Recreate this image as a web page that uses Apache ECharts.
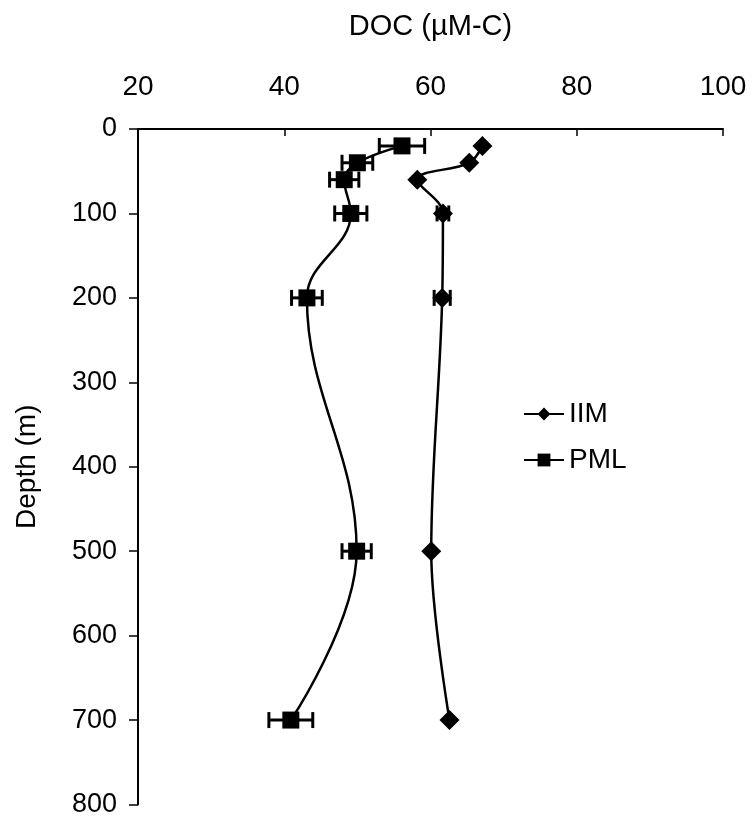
<!DOCTYPE html>
<html>
<head>
<meta charset="utf-8">
<script src="https://cdn.jsdelivr.net/npm/echarts@6/dist/echarts.min.js"></script>
<style>
  html, body { margin: 0; padding: 0; background: #fff; }
  #main { width: 755px; height: 818px; }
</style>
</head>
<body>
<div id="main"></div>
<script>
// depth in metres, DOC in µM-C
const depths = [20, 40, 60, 100, 200, 500, 700]
const iimDoc = [67.1, 65.3, 58.2, 61.7, 61.6, 60.1, 62.6]
const iimErr = [0, 0, 0, 0.8, 1.1, 0, 0]
const pmlDoc = [56.1, 50.0, 48.2, 49.1, 43.1, 49.9, 40.9]
const pmlErr = [3.1, 2.1, 2.0, 2.2, 2.1, 2.0, 3.0]
const xTicks = [20, 40, 60, 80, 100]
const yTicks = [0, 100, 200, 300, 400, 500, 600, 700, 800]

const font = 'Liberation Sans, Arial, sans-serif'

const pts = (vals) => depths.map((d, i) => [vals[i], d])
const errs = (vals, e) => depths.map((d, i) => [vals[i] - e[i], vals[i] + e[i], d])

const errorBars = (name, data) => ({
  type: 'custom',
  name: name,
  data: data,
  z: 3,
  renderItem: (params, api) => {
    const lo = api.coord([api.value(0), api.value(2)])
    const hi = api.coord([api.value(1), api.value(2)])
    if (hi[0] - lo[0] < 1) return null
    const h = 8
    const st = { stroke: '#000', lineWidth: 3 }
    return {
      type: 'group',
      children: [
        { type: 'line', shape: { x1: lo[0], y1: lo[1], x2: hi[0], y2: hi[1] }, style: st },
        { type: 'line', shape: { x1: lo[0], y1: lo[1] - h, x2: lo[0], y2: lo[1] + h }, style: st },
        { type: 'line', shape: { x1: hi[0], y1: hi[1] - h, x2: hi[0], y2: hi[1] + h }, style: st }
      ]
    }
  }
})

const chart = echarts.init(document.getElementById('main'))

chart.setOption({
  animation: false,
  backgroundColor: '#fff',
  textStyle: { fontFamily: font, color: '#000' },
  grid: { left: 138, right: 32, top: 129, bottom: 12 },
  legend: {
    orient: 'vertical',
    left: 518,
    top: 395,
    itemWidth: 40,
    itemHeight: 16,
    itemGap: 18,
    data: ['IIM', 'PML'],
    textStyle: { fontFamily: font, fontSize: 28, color: '#000' }
  },
  xAxis: {
    type: 'value',
    position: 'top',
    min: 20,
    max: 100,
    interval: 20,
    name: 'DOC (µM-C)',
    nameLocation: 'middle',
    nameGap: 88,
    nameTextStyle: { fontFamily: font, fontSize: 29, color: '#000' },
    axisLine: { show: true, onZero: false, lineStyle: { color: '#000', width: 2 } },
    axisTick: { show: true, inside: true, length: 7, lineStyle: { color: '#000', width: 1.5 } },
    axisLabel: { fontFamily: font, fontSize: 28, color: '#000', margin: 28 },
    splitLine: { show: false }
  },
  yAxis: {
    type: 'value',
    inverse: true,
    min: 0,
    max: 800,
    interval: 100,
    name: 'Depth (m)',
    nameLocation: 'middle',
    nameGap: 97,
    nameRotate: 90,
    nameTextStyle: { fontFamily: font, fontSize: 28, color: '#000' },
    axisLine: { show: true, onZero: false, lineStyle: { color: '#000', width: 2 } },
    axisTick: { show: true, length: 9, lineStyle: { color: '#000', width: 1.5 } },
    axisLabel: { fontFamily: font, fontSize: 27, color: '#000', margin: 21 },
    splitLine: { show: false }
  },
  series: [
    errorBars('IIM error', errs(iimDoc, iimErr)),
    errorBars('PML error', errs(pmlDoc, pmlErr)),
    {
      name: 'IIM',
      type: 'line',
      data: pts(iimDoc),
      smooth: 0.35,
      symbol: 'diamond',
      symbolSize: 20,
      itemStyle: { color: '#000' },
      lineStyle: { color: '#000', width: 2.5 },
      z: 4
    },
    {
      name: 'PML',
      type: 'line',
      data: pts(pmlDoc),
      smooth: 0.4,
      symbol: 'rect',
      symbolSize: 17,
      itemStyle: { color: '#000' },
      lineStyle: { color: '#000', width: 2.5 },
      z: 4
    }
  ]
})
</script>
</body>
</html>
